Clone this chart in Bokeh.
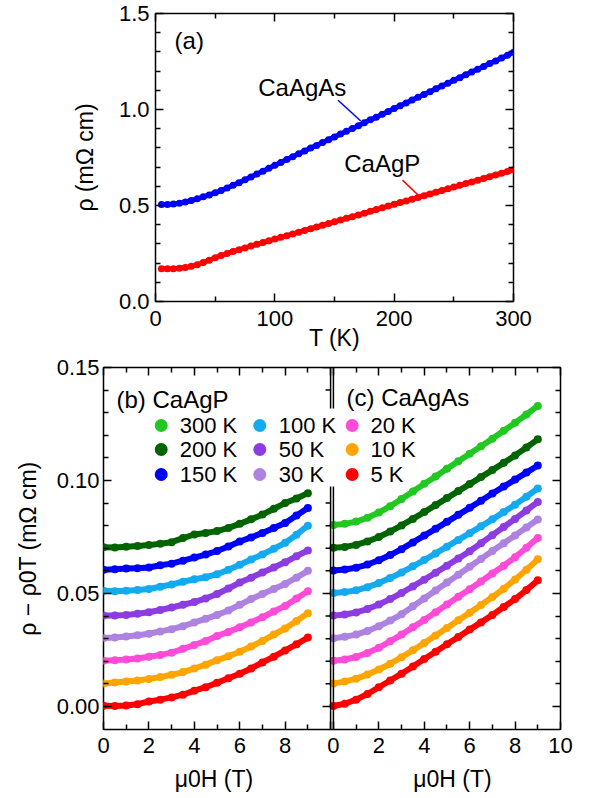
import numpy as np
from bokeh.plotting import figure
from bokeh.models import Range1d, LinearAxis, FixedTicker, Label, CustomJSTickFormatter, Grid
from bokeh.embed import file_html
from bokeh.resources import INLINE

FONT = "Liberation Sans"

# ---------------- data: panel (a) ----------------
T_K = list(range(5, 305, 5))
rho_CaAgAs = [0.505, 0.505, 0.508, 0.512, 0.518, 0.526, 0.535, 0.545, 0.555, 0.566,
              0.578, 0.591, 0.605, 0.619, 0.634, 0.649, 0.664, 0.679, 0.694, 0.709,
              0.724, 0.739, 0.754, 0.769, 0.784, 0.799, 0.813, 0.828, 0.843, 0.857,
              0.872, 0.887, 0.901, 0.916, 0.931, 0.946, 0.960, 0.975, 0.990, 1.005,
              1.020, 1.034, 1.049, 1.064, 1.078, 1.093, 1.108, 1.122, 1.137, 1.152,
              1.166, 1.181, 1.195, 1.210, 1.224, 1.239, 1.253, 1.268, 1.283, 1.298]
rho_CaAgP = [0.170, 0.170, 0.171, 0.173, 0.177, 0.183, 0.192, 0.203, 0.215, 0.228,
             0.239, 0.250, 0.260, 0.270, 0.279, 0.289, 0.298, 0.307, 0.316, 0.325,
             0.334, 0.343, 0.352, 0.361, 0.370, 0.379, 0.388, 0.397, 0.406, 0.415,
             0.424, 0.433, 0.442, 0.451, 0.460, 0.470, 0.479, 0.488, 0.497, 0.506,
             0.515, 0.524, 0.533, 0.542, 0.551, 0.560, 0.569, 0.578, 0.587, 0.596,
             0.605, 0.614, 0.623, 0.632, 0.641, 0.650, 0.659, 0.668, 0.677, 0.686]

# ---------------- data: panels (b), (c) ----------------
H_T = [0.0, 0.5, 1.0, 1.5, 2.0, 2.5, 3.0, 3.5, 4.0, 4.5,
       5.0, 5.5, 6.0, 6.5, 7.0, 7.5, 8.0, 8.5, 9.0]

b_curves = {
    "200 K": [0.0705, 0.0703, 0.0707, 0.0710, 0.0714, 0.0720, 0.0727, 0.0745, 0.0761, 0.0768,
              0.0776, 0.0790, 0.0808, 0.0828, 0.0849, 0.0875, 0.0900, 0.0920, 0.0944],
    "150 K": [0.0605, 0.0607, 0.0610, 0.0612, 0.0615, 0.0625, 0.0632, 0.0645, 0.0659, 0.0672,
              0.0688, 0.0708, 0.0730, 0.0748, 0.0768, 0.0790, 0.0812, 0.0845, 0.0878],
    "100 K": [0.0512, 0.0510, 0.0512, 0.0515, 0.0520, 0.0530, 0.0540, 0.0552, 0.0563, 0.0572,
              0.0585, 0.0605, 0.0627, 0.0650, 0.0673, 0.0698, 0.0724, 0.0760, 0.0800],
    "50 K": [0.0402, 0.0403, 0.0405, 0.0410, 0.0417, 0.0427, 0.0438, 0.0450, 0.0462, 0.0478,
             0.0498, 0.0522, 0.0548, 0.0570, 0.0593, 0.0615, 0.0638, 0.0665, 0.0690],
    "30 K": [0.0303, 0.0305, 0.0310, 0.0315, 0.0322, 0.0332, 0.0342, 0.0355, 0.0372, 0.0388,
             0.0405, 0.0425, 0.0450, 0.0475, 0.0498, 0.0520, 0.0542, 0.0570, 0.0600],
    "20 K": [0.0202, 0.0205, 0.0208, 0.0212, 0.0220, 0.0228, 0.0238, 0.0255, 0.0272, 0.0290,
             0.0312, 0.0330, 0.0350, 0.0372, 0.0395, 0.0420, 0.0445, 0.0478, 0.0510],
    "10 K": [0.0102, 0.0106, 0.0110, 0.0115, 0.0122, 0.0130, 0.0140, 0.0152, 0.0168, 0.0185,
             0.0205, 0.0222, 0.0242, 0.0265, 0.0290, 0.0318, 0.0345, 0.0378, 0.0413],
    "5 K": [0.0003, 0.0002, 0.0004, 0.0010, 0.0022, 0.0030, 0.0040, 0.0052, 0.0070, 0.0085,
            0.0105, 0.0125, 0.0145, 0.0168, 0.0195, 0.0220, 0.0248, 0.0275, 0.0305],
}

c_curves = {
    "300 K": [0.0803, 0.0808, 0.0818, 0.0835, 0.0858, 0.0886, 0.0918, 0.0951, 0.0985, 0.1018,
              0.1052, 0.1085, 0.1118, 0.1151, 0.1185, 0.1220, 0.1255, 0.1292, 0.1330],
    "200 K": [0.0702, 0.0706, 0.0715, 0.0730, 0.0750, 0.0774, 0.0801, 0.0830, 0.0860, 0.0891,
              0.0922, 0.0953, 0.0984, 0.1015, 0.1046, 0.1078, 0.1111, 0.1146, 0.1182],
    "150 K": [0.0602, 0.0606, 0.0614, 0.0628, 0.0647, 0.0670, 0.0696, 0.0726, 0.0756, 0.0786,
              0.0817, 0.0848, 0.0879, 0.0910, 0.0942, 0.0973, 0.1004, 0.1035, 0.1066],
    "100 K": [0.0502, 0.0506, 0.0514, 0.0528, 0.0546, 0.0568, 0.0593, 0.0620, 0.0648, 0.0677,
              0.0707, 0.0737, 0.0767, 0.0797, 0.0828, 0.0860, 0.0893, 0.0928, 0.0965],
    "50 K": [0.0402, 0.0407, 0.0416, 0.0431, 0.0451, 0.0475, 0.0502, 0.0531, 0.0561, 0.0592,
             0.0623, 0.0655, 0.0687, 0.0722, 0.0758, 0.0794, 0.0830, 0.0867, 0.0905],
    "30 K": [0.0302, 0.0308, 0.0318, 0.0334, 0.0355, 0.0380, 0.0408, 0.0443, 0.0478, 0.0513,
             0.0548, 0.0583, 0.0618, 0.0653, 0.0688, 0.0722, 0.0757, 0.0792, 0.0827],
    "20 K": [0.0202, 0.0208, 0.0219, 0.0237, 0.0260, 0.0288, 0.0318, 0.0350, 0.0383, 0.0417,
             0.0451, 0.0485, 0.0519, 0.0553, 0.0588, 0.0623, 0.0660, 0.0702, 0.0746],
    "10 K": [0.0102, 0.0110, 0.0123, 0.0141, 0.0163, 0.0189, 0.0218, 0.0249, 0.0281, 0.0314,
             0.0347, 0.0381, 0.0415, 0.0449, 0.0484, 0.0521, 0.0562, 0.0605, 0.0651],
    "5 K": [0.0002, 0.0012, 0.0030, 0.0055, 0.0085, 0.0115, 0.0145, 0.0177, 0.0210, 0.0242,
            0.0275, 0.0307, 0.0340, 0.0372, 0.0405, 0.0440, 0.0475, 0.0515, 0.0558],
}

colors = {"300 K": "#22c822", "200 K": "#006400", "150 K": "#0000ff",
          "100 K": "#14aaf0", "50 K": "#8c3ce0", "30 K": "#ad82e0",
          "20 K": "#ff4cd8", "10 K": "#ffa500", "5 K": "#ff0000"}
legend_cols = [["300 K", "200 K", "150 K"], ["100 K", "50 K", "30 K"], ["20 K", "10 K", "5 K"]]

# ---------------- geometry (page pixels) ----------------
PAGE_W = 591
A_L, A_T, A_W, A_H = 155, 13, 358, 288
A_CANVAS_H = 355
B_L, B_T, B_W, B_H = 103, 367, 457, 362
B_CANVAS_H = 440
XA, YA = (0.0, 300.0), (0.0, 1.5)
XB, YB = (0.0, 20.125), (-0.0102, 0.15)
C_OFF = 10.125
TICK_FS = "22px"


def b_xy(px, py):
    return (XB[0] + (px - B_L) / B_W * (XB[1] - XB[0]),
            YB[1] - (py - B_T) / B_H * (YB[1] - YB[0]))


def lab(p, xy, text, size, align="left", baseline="middle"):
    p.add_layout(Label(x=xy[0], y=xy[1], text=text, text_font=FONT,
                       text_font_size=f"{size}px", text_align=align,
                       text_baseline=baseline, text_color="black"))


def axis(ticks, minor, formatter=None, show=True, standoff=6):
    ax = LinearAxis(ticker=FixedTicker(ticks=ticks, minor_ticks=minor))
    ax.axis_line_color = None
    ax.major_tick_in, ax.major_tick_out = 8, 0
    ax.minor_tick_in, ax.minor_tick_out = 5, 0
    ax.major_tick_line_width = 1.5
    ax.minor_tick_line_width = 1.5
    ax.major_tick_line_color = "black"
    ax.minor_tick_line_color = "black"
    ax.major_label_text_font = FONT
    ax.major_label_text_color = "black"
    ax.major_label_standoff = standoff
    ax.axis_label_text_font = FONT
    ax.axis_label_text_font_size = "23px"
    ax.axis_label_text_font_style = "normal"
    ax.axis_label_text_color = "black"
    if show:
        ax.major_label_text_font_size = TICK_FS
        if formatter is not None:
            ax.formatter = formatter
    else:
        ax.major_label_text_font_size = "1px"
        ax.major_label_standoff = 0
        ax.formatter = CustomJSTickFormatter(code="return ''")
    return ax


def style(p):
    p.outline_line_color = "black"
    p.outline_line_width = 1.5
    p.background_fill_color = "white"
    p.border_fill_color = "white"
    for g in p.select(type=Grid):
        g.visible = False


# ---------------- panel (a) ----------------
pa = figure(frame_width=A_W, frame_height=A_H,
            x_range=Range1d(*XA), y_range=Range1d(*YA),
            min_border_left=A_L, min_border_right=PAGE_W - A_L - A_W,
            min_border_top=A_T, min_border_bottom=A_CANVAS_H - A_T - A_H,
            x_axis_location=None, y_axis_location=None,
            output_backend="svg", toolbar_location=None)
style(pa)
xt_a, xm_a = [0, 100, 200, 300], [50, 150, 250]
yt_a = [0.0, 0.5, 1.0, 1.5]
ym_a = [0.1, 0.2, 0.3, 0.4, 0.6, 0.7, 0.8, 0.9, 1.1, 1.2, 1.3, 1.4]
ax_ab = axis(xt_a, xm_a, standoff=9)
ax_ab.axis_label = "T (K)"
ax_ab.axis_label_standoff = -4
pa.add_layout(ax_ab, "below")
pa.add_layout(axis(xt_a, xm_a, show=False), "above")
ax_al = axis(yt_a, ym_a, CustomJSTickFormatter(code="return tick.toFixed(1)"), standoff=6)
ax_al.axis_label = "ρ (mΩ cm)"
ax_al.axis_label_standoff = 18
pa.add_layout(ax_al, "left")
pa.add_layout(axis(yt_a, ym_a, show=False), "right")

for ys, col in ((rho_CaAgAs, "#0000ff"), (rho_CaAgP, "#ff0000")):
    pa.line(T_K, ys, line_color=col, line_width=5)
    pa.scatter(T_K, ys, size=7, color=col, line_color=None)

pa.segment(x0=[153, 207], y0=[1.048, 0.632], x1=[172, 220], y1=[0.94, 0.555],
           line_color=["#0000ff", "#ff0000"], line_width=1.5)

lab(pa, (16, 1.36), "(a)", 24)
lab(pa, (123, 1.115), "CaAgAs", 24, align="center")
lab(pa, (190, 0.72), "CaAgP", 24, align="center")

# ---------------- panels (b) + (c) ----------------
pb = figure(frame_width=B_W, frame_height=B_H,
            x_range=Range1d(*XB), y_range=Range1d(*YB),
            min_border_left=B_L, min_border_right=PAGE_W - B_L - B_W,
            min_border_top=B_T - A_CANVAS_H, min_border_bottom=B_CANVAS_H - (B_T - A_CANVAS_H) - B_H,
            x_axis_location=None, y_axis_location=None,
            output_backend="svg", toolbar_location=None)
style(pb)
xt_b = [0, 2, 4, 6, 8, 10] + [C_OFF + v for v in (0, 2, 4, 6, 8, 10)]
xm_b = [1, 3, 5, 7, 9] + [C_OFF + v for v in (1, 3, 5, 7, 9)]
xfmt = CustomJSTickFormatter(code="""
if (Math.abs(tick - 10) < 1e-6) { return ''; }
if (tick > 10.06) { return (tick - 10.125).toFixed(0); }
return tick.toFixed(0);
""")
yt_b = [0.0, 0.05, 0.10, 0.15]
ym_b = [0.01, 0.02, 0.03, 0.04, 0.06, 0.07, 0.08, 0.09, 0.11, 0.12, 0.13, 0.14]
pb.add_layout(axis(xt_b, xm_b, xfmt, standoff=8), "below")
# second row below: the two x-axis titles, one under each panel
title_x = [b_xy(213.5, 0)[0], b_xy(452.0, 0)[0]]
ax_t = LinearAxis(ticker=FixedTicker(ticks=title_x, minor_ticks=[]),
                  formatter=CustomJSTickFormatter(code="return 'μ0H (T)'"))
ax_t.axis_line_color = None
ax_t.major_tick_in, ax_t.major_tick_out = 0, 0
ax_t.minor_tick_in, ax_t.minor_tick_out = 0, 0
ax_t.major_label_text_font = FONT
ax_t.major_label_text_font_size = "23px"
ax_t.major_label_text_color = "black"
ax_t.major_label_standoff = 10
pb.add_layout(ax_t, "below")
pb.add_layout(axis(xt_b, xm_b, show=False), "above")
ax_bl = axis(yt_b, ym_b, CustomJSTickFormatter(code="return tick.toFixed(2)"), standoff=4)
ax_bl.axis_label = "ρ − ρ0T (mΩ cm)"
ax_bl.axis_label_standoff = 13
pb.add_layout(ax_bl, "left")
pb.add_layout(axis(yt_b, ym_b, show=False), "right")

for name, ys in b_curves.items():
    pb.line(H_T, ys, line_color=colors[name], line_width=6, line_join="round", line_cap="round")
    pb.scatter(H_T, ys, size=8, color=colors[name], line_color=None)
H_c = [h + C_OFF for h in H_T]
for name, ys in c_curves.items():
    pb.line(H_c, ys, line_color=colors[name], line_width=6, line_join="round", line_cap="round")
    pb.scatter(H_c, ys, size=8, color=colors[name], line_color=None)

# divider between (b) and (c)
pb.segment(x0=[10.0, C_OFF], y0=[YB[0], YB[0]], x1=[10.0, C_OFF], y1=[YB[1], YB[1]],
           line_color="black", line_width=1.5)
px_per_x = B_W / (XB[1] - XB[0])
tv = [round(0.01 * k, 2) for k in range(0, 16)]
tl = [(8 if round(v * 100) % 5 == 0 else 5) / px_per_x for v in tv]
pb.segment(x0=[10.0] * len(tv), y0=tv, x1=[10.0 - d for d in tl], y1=tv,
           line_color="black", line_width=1.5)

# white background behind the legend where it crosses the divider
g0 = b_xy(321, 486)
g1 = b_xy(340, 408)
pb.quad(left=g0[0], right=g1[0], bottom=g0[1], top=g1[1], fill_color="white", line_color=None)

# legend
row_py = [425, 449, 474]
mark_px = [160.7, 259.3, 351.7]
text_px = [179.3, 278.3, 370.0]
for ci, names in enumerate(legend_cols):
    for ri, name in enumerate(names):
        mx, my = b_xy(mark_px[ci], row_py[ri])
        pb.scatter([mx], [my], size=13, color=colors[name], line_color=None)
        lab(pb, b_xy(text_px[ci], row_py[ri]), name, 22)

lab(pb, b_xy(116, 399), "(b) CaAgP", 24)
lab(pb, b_xy(346, 397), "(c) CaAgAs", 24)

open("out.html", "w").write(file_html([pa, pb], INLINE))
